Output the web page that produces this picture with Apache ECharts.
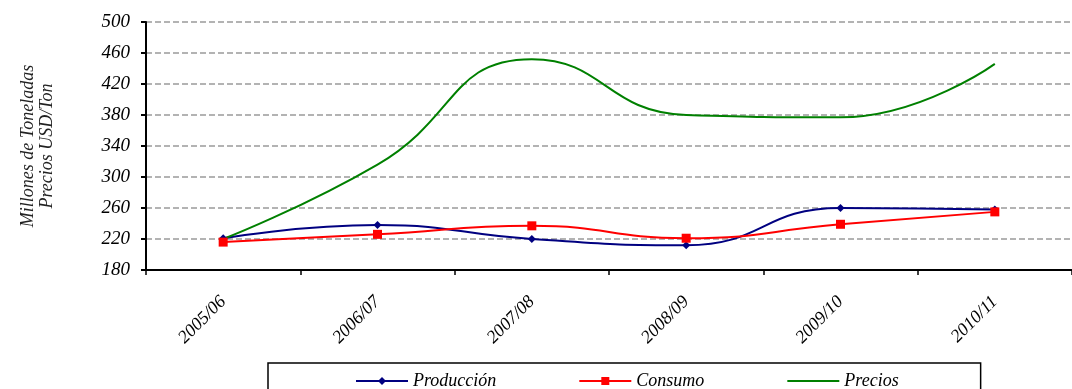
<!DOCTYPE html>
<html>
<head>
<meta charset="utf-8">
<script src="https://cdn.jsdelivr.net/npm/echarts@6/dist/echarts.min.js"></script>
<style>
  html, body { margin: 0; padding: 0; background: #fff; }
  #chart { width: 1072px; height: 389px; }
</style>
</head>
<body>
<div id="chart"></div>
<script>
const campanas = ['2005/06', '2006/07', '2007/08', '2008/09', '2009/10', '2010/11'];
const produccion = [221, 238, 220, 212, 260, 258];
const consumo = [216, 226, 237, 221, 239, 255];
const precios = [220, 316, 452, 380, 377, 446];

const font = 'Liberation Serif';
const chart = echarts.init(document.getElementById('chart'));

const option = {
  animation: false,
  backgroundColor: '#fff',
  grid: { left: 146, top: 22, bottom: 119, right: -9 },
  legend: {
    left: 268,
    top: 363,
    padding: [9, 82, 20, 87],
    itemGap: 82,
    itemWidth: 52,
    itemHeight: 10,
    borderColor: '#000',
    borderWidth: 1.5,
    backgroundColor: '#fff',
    textStyle: { fontFamily: font, fontStyle: 'italic', fontSize: 18, color: '#000' },
    data: [
      'Producción',
      'Consumo',
      { name: 'Precios', itemStyle: { opacity: 0 } }
    ]
  },
  xAxis: {
    type: 'category',
    data: campanas,
    axisLine: { lineStyle: { color: '#000', width: 2 } },
    axisTick: { show: true, length: 5, lineStyle: { color: '#000', width: 1.5 } },
    axisLabel: {
      rotate: 45,
      margin: 29,
      fontFamily: font,
      fontStyle: 'italic',
      fontSize: 18,
      color: '#000'
    }
  },
  yAxis: {
    type: 'value',
    min: 180,
    max: 500,
    interval: 40,
    name: 'Millones de Toneladas\nPrecios USD/Ton',
    nameLocation: 'middle',
    nameRotate: 90,
    nameGap: 89,
    nameTextStyle: { fontFamily: font, fontStyle: 'italic', fontSize: 18, color: '#222', lineHeight: 19 },
    axisLine: { show: true, lineStyle: { color: '#000', width: 2 } },
    axisTick: { show: true, length: 5, lineStyle: { color: '#000', width: 2 } },
    axisLabel: { margin: 16, fontFamily: font, fontStyle: 'italic', fontSize: 19, color: '#000' },
    splitLine: { lineStyle: { color: '#9a9a9a', width: 1.5, type: [6, 3] } }
  },
  series: [
    {
      name: 'Producción',
      type: 'line',
      data: produccion,
      smooth: 0.5,
      symbol: 'diamond',
      symbolSize: 8,
      itemStyle: { color: '#000080' },
      lineStyle: { color: '#000080', width: 2 }
    },
    {
      name: 'Consumo',
      type: 'line',
      data: consumo,
      smooth: 0.5,
      symbol: 'rect',
      symbolSize: 9,
      itemStyle: { color: '#ff0000' },
      lineStyle: { color: '#ff0000', width: 2 }
    },
    {
      name: 'Precios',
      type: 'line',
      data: precios,
      smooth: 0.5,
      symbol: 'none',
      itemStyle: { color: '#008000' },
      lineStyle: { color: '#008000', width: 2 }
    }
  ]
};

chart.setOption(option);
</script>
</body>
</html>
